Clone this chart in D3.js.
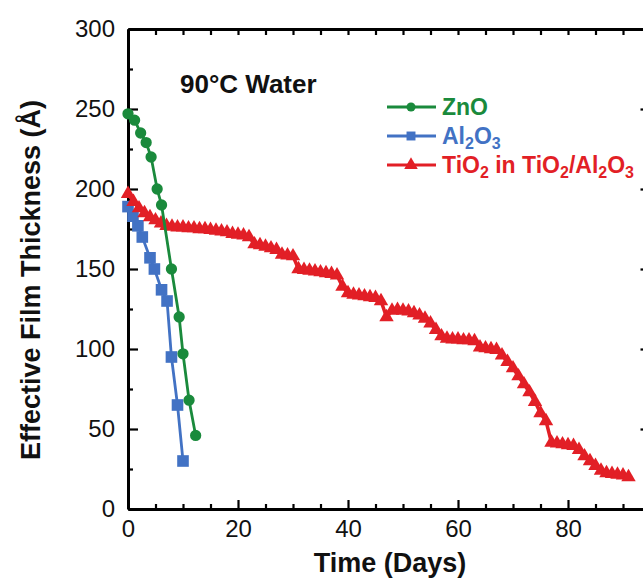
<!DOCTYPE html>
<html>
<head>
<meta charset="utf-8">
<script src="https://cdn.jsdelivr.net/npm/d3@7"></script>
<style>
  html, body { margin: 0; padding: 0; background: #fff; }
  svg { display: block; font-family: "Liberation Sans", Arial, sans-serif; }
</style>
</head>
<body>
<svg id="chart" width="643" height="582"></svg>
<script>
// ---------------- data ----------------
const znoDays   = [0, 1.2, 2.3, 3.3, 4.2, 5.3, 6.1, 7.9, 9.3, 10.0, 11.1, 12.3];
const znoValues = [247, 243, 235, 229, 220, 200, 190, 150, 120, 97, 68, 46];

const alDays   = [0, 0.9, 1.8, 2.6, 4.0, 4.8, 6.1, 7.1, 7.9, 9.0, 10.0];
const alValues = [189, 183, 177, 170, 157, 150, 137, 130, 95, 65, 30];

const tiDays = [0,1,2,3,4,5,6,7,8,9,10,11,12,13,14,15,16,17,18,19,20,21,22,23,24,25,26,27,28,29,
  30,31,32,33,34,35,36,37,38,39,40,41,42,43,44,45,46,47,48,49,50,51,52,53,54,55,56,57,58,59,
  60,61,62,63,64,65,66,67,68,69,70,71,72,73,74,75,76,77,78,79,80,81,82,83,84,85,86,87,88,89,90,91];
const tiValues = [197,192,188,185,182.5,180.5,178.5,177,176.5,176,176,175.5,175.5,175,175,174.5,174,173.5,173,172,
  171.5,171,170,165.5,165,164,163,162,159,158.5,158,150,149.5,149,148.5,148,147.5,147,146,139,
  135,134,133.5,133,132.5,132,130,120,124,124.5,124,123.5,122.5,121,119,116,112,108,106.5,106,
  106,105.5,105.5,105,101,100.5,100,99.5,96,92,88,83,78,73,67,60,55,41.5,41,40.5,
  40,39.5,37,33,30,27,24,22.5,22,21.5,21,20];

const xMajorTicks = [0, 20, 40, 60, 80];
const yMajorTicks = [0, 50, 100, 150, 200, 250, 300];
const yMinorTicks = [25, 75, 125, 175, 225, 275];
const xMinorTicks = [5,10,15,25,30,35,45,50,55,65,70,75,85,90];
const rightTicks  = [50, 100, 150, 200, 250];

const colors = { zno: "#1a8a3c", al: "#4272c4", ti: "#e21f26" };

// ---------------- scales ----------------
const svg = d3.select("#chart");
const L = 128, T = 29, B = 509;
const x = d3.scaleLinear().domain([0, 95]).range([L, L + 95 * 5.5]);
const y = d3.scaleLinear().domain([0, 300]).range([B, T]);
const R = x(95);

// ---------------- axes ----------------
const axW = 3;
function styleAxis(g) {
  g.selectAll("path.domain").attr("stroke", "#000").attr("stroke-width", axW);
  g.selectAll(".tick line").attr("stroke", "#000").attr("stroke-width", 2.2);
  g.selectAll(".tick text").attr("fill", "#111").attr("font-size", 24)
   .attr("font-family", "'Liberation Sans', Arial, sans-serif");
}

svg.append("g").attr("transform", `translate(${L},0)`)
  .call(d3.axisLeft(y).tickValues(yMajorTicks).tickSizeInner(-10).tickSizeOuter(0).tickPadding(13))
  .call(styleAxis)
  .call(g => g.selectAll(".tick text").attr("dy", "0.3em"));
svg.append("g").attr("transform", `translate(${L},0)`)
  .call(d3.axisLeft(y).tickValues(yMinorTicks).tickSizeInner(-5).tickSizeOuter(0).tickFormat(""))
  .call(styleAxis).call(g => g.select("path.domain").remove());

svg.append("g").attr("transform", `translate(0,${B})`)
  .call(d3.axisBottom(x).tickValues(xMajorTicks).tickSizeInner(-9).tickSizeOuter(0).tickPadding(11))
  .call(styleAxis)
  .call(g => g.selectAll(".tick text").attr("dy", "0.71em"));
svg.append("g").attr("transform", `translate(0,${B})`)
  .call(d3.axisBottom(x).tickValues(xMinorTicks).tickSizeInner(-5).tickSizeOuter(0).tickFormat(""))
  .call(styleAxis).call(g => g.select("path.domain").remove());

svg.append("g").attr("transform", `translate(0,${T})`)
  .call(d3.axisTop(x).tickValues(xMajorTicks.concat(xMinorTicks)).tickSizeInner(-6).tickSizeOuter(0).tickFormat(""))
  .call(styleAxis);

svg.append("g").attr("transform", `translate(${R},0)`)
  .call(d3.axisRight(y).tickValues(rightTicks).tickSizeInner(-10).tickSizeOuter(0).tickFormat(""))
  .call(styleAxis);

// ---------------- series ----------------
const line = d3.line().x(d => x(d[0])).y(d => y(d[1]));
const alData = alDays.map((d, i) => [d, alValues[i]]);
const tiData = tiDays.map((d, i) => [d, tiValues[i]]);
const znData = znoDays.map((d, i) => [d, znoValues[i]]);

function series(data, color, symbol, size, sw) {
  const g = svg.append("g");
  g.append("path").datum(data).attr("d", line)
    .attr("fill", "none").attr("stroke", color).attr("stroke-width", sw);
  g.selectAll("path.m").data(data).join("path").attr("class", "m")
    .attr("transform", d => `translate(${x(d[0])},${y(d[1])})`)
    .attr("d", d3.symbol().type(symbol).size(size))
    .attr("fill", color);
}
series(alData, colors.al, d3.symbolSquare, 135, 2.8);
series(tiData, colors.ti, d3.symbolTriangle, 90, 3.5);
series(znData, colors.zno, d3.symbolCircle, 100, 2.8);

// ---------------- annotation ----------------
svg.append("text").attr("x", 180).attr("y", 93)
  .attr("font-size", 26).attr("font-weight", "bold").attr("fill", "#111")
  .text("90°C Water");

// ---------------- legend ----------------
const legend = [
  { parts: [["ZnO", false]], color: colors.zno, sym: d3.symbolCircle, size: 65, y: 107 },
  { parts: [["Al", false], ["2", true], ["O", false], ["3", true]], color: colors.al, sym: d3.symbolSquare, size: 80, y: 136 },
  { parts: [["TiO", false], ["2", true], [" in TiO", false], ["2", true], ["/Al", false], ["2", true], ["O", false], ["3", true]],
    color: colors.ti, sym: d3.symbolTriangle, size: 80, y: 165 }
];
legend.forEach(it => {
  const g = svg.append("g");
  g.append("line").attr("x1", 387).attr("x2", 436).attr("y1", it.y).attr("y2", it.y)
    .attr("stroke", it.color).attr("stroke-width", 2.8);
  g.append("path").attr("transform", `translate(411,${it.y})`)
    .attr("d", d3.symbol().type(it.sym).size(it.size)).attr("fill", it.color);
  const t = g.append("text").attr("x", 442).attr("y", it.y + 8)
    .attr("font-size", 23).attr("font-weight", "bold").attr("fill", it.color);
  let prevSub = false;
  it.parts.forEach(([s, sub]) => {
    const ts = t.append("tspan").text(s);
    if (sub) { ts.attr("font-size", 16).attr("dy", prevSub ? 0 : 5); }
    else { ts.attr("dy", prevSub ? -5 : 0); }
    prevSub = sub;
  });
});

// ---------------- axis titles ----------------
svg.append("text").attr("transform", "translate(40,280) rotate(-90)")
  .attr("text-anchor", "middle").attr("font-size", 27).attr("font-weight", "bold").attr("fill", "#111")
  .text("Effective Film Thickness (Å)");
svg.append("text").attr("x", 390).attr("y", 572)
  .attr("text-anchor", "middle").attr("font-size", 27).attr("font-weight", "bold").attr("fill", "#111")
  .text("Time (Days)");
</script>
</body>
</html>
